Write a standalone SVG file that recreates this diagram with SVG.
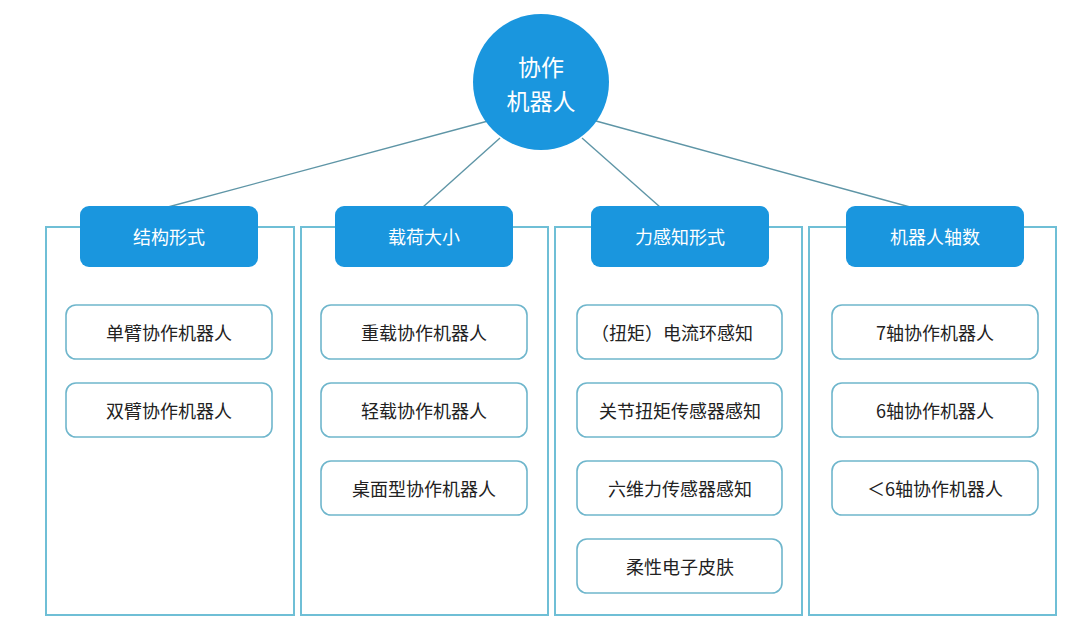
<svg xmlns="http://www.w3.org/2000/svg" width="1080" height="625" viewBox="0 0 1080 625">
<style>
.panel{fill:#fff;stroke:#6fbfd6;stroke-width:2}
.hdr{fill:#1a96de}
.item{fill:#fff;stroke:#6fb6cc;stroke-width:1.6}
.t{font-family:"Noto Sans CJK SC","Noto Sans",sans-serif;font-size:18px;text-anchor:middle;dominant-baseline:central;fill:#222}
.w{fill:#fff}
.big{font-size:23px}
.link{stroke:#5e95a6;stroke-width:1.4;fill:none}
</style>
<rect width="1080" height="625" fill="#fff"/>
<g id="connectors">
<line class="link" x1="488" y1="121" x2="168" y2="207"/>
<line class="link" x1="500" y1="138" x2="423" y2="207"/>
<line class="link" x1="582" y1="138" x2="660" y2="207"/>
<line class="link" x1="596" y1="121" x2="910" y2="207"/>
</g>
<g id="root">
<circle cx="541" cy="82" r="68" fill="#1a96de"/>
<text class="t w big" x="541" y="66">协作</text>
<text class="t w big" x="541" y="100">机器人</text>
</g>
<g id="col1">
<rect class="panel" x="46" y="227" width="248" height="388"/>
<rect class="hdr" x="80" y="206" width="178" height="61" rx="9"/>
<text class="t w" x="169" y="236">结构形式</text>
<rect class="item" x="66" y="305" width="206" height="54" rx="10"/>
<text class="t" x="169" y="332">单臂协作机器人</text>
<rect class="item" x="66" y="383" width="206" height="54" rx="10"/>
<text class="t" x="169" y="410">双臂协作机器人</text>
</g>
<g id="col2">
<rect class="panel" x="301" y="227" width="247" height="388"/>
<rect class="hdr" x="335" y="206" width="178" height="61" rx="9"/>
<text class="t w" x="424" y="236">载荷大小</text>
<rect class="item" x="321" y="305" width="206" height="54" rx="10"/>
<text class="t" x="424" y="332">重载协作机器人</text>
<rect class="item" x="321" y="383" width="206" height="54" rx="10"/>
<text class="t" x="424" y="410">轻载协作机器人</text>
<rect class="item" x="321" y="461" width="206" height="54" rx="10"/>
<text class="t" x="424" y="488">桌面型协作机器人</text>
</g>
<g id="col3">
<rect class="panel" x="555" y="227" width="247" height="388"/>
<rect class="hdr" x="591" y="206" width="178" height="61" rx="9"/>
<text class="t w" x="680" y="236">力感知形式</text>
<rect class="item" x="577" y="305" width="205" height="54" rx="10"/>
<text class="t" x="672" y="332">（扭矩）电流环感知</text>
<rect class="item" x="577" y="383" width="205" height="54" rx="10"/>
<text class="t" x="680" y="410">关节扭矩传感器感知</text>
<rect class="item" x="577" y="461" width="205" height="54" rx="10"/>
<text class="t" x="680" y="488">六维力传感器感知</text>
<rect class="item" x="577" y="539" width="205" height="54" rx="10"/>
<text class="t" x="680" y="566">柔性电子皮肤</text>
</g>
<g id="col4">
<rect class="panel" x="809" y="227" width="247" height="388"/>
<rect class="hdr" x="846" y="206" width="178" height="61" rx="9"/>
<text class="t w" x="935" y="236">机器人轴数</text>
<rect class="item" x="832" y="305" width="206" height="54" rx="10"/>
<text class="t" x="935" y="332">7轴协作机器人</text>
<rect class="item" x="832" y="383" width="206" height="54" rx="10"/>
<text class="t" x="935" y="410">6轴协作机器人</text>
<rect class="item" x="832" y="461" width="206" height="54" rx="10"/>
<text class="t" x="935" y="488">＜6轴协作机器人</text>
</g>
</svg>
